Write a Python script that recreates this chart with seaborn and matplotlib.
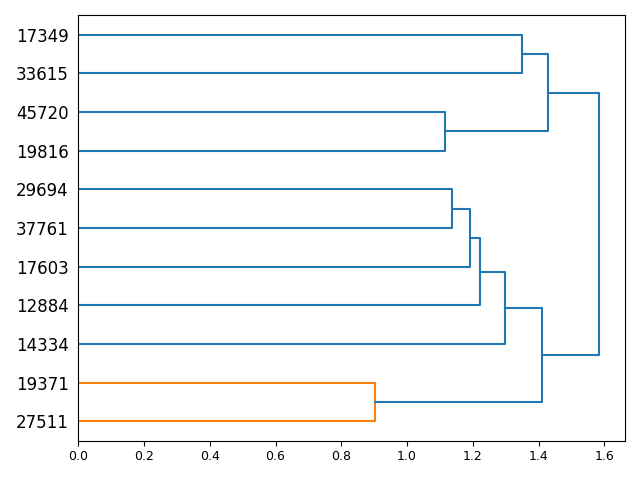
import matplotlib
matplotlib.use("Agg")
import matplotlib.pyplot as plt
import seaborn as sns
import pandas as pd

# leaf labels, bottom to top
leaf_labels = ['27511', '19371', '14334', '12884', '17603', '37761',
               '29694', '19816', '45720', '33615', '17349']

# merges: node ids 0..10 are leaves, 11.. are merged clusters (in list order)
merge_left = [0, 5, 7, 4, 3, 2, 9, 11, 13, 18]
merge_right = [1, 6, 8, 12, 14, 15, 10, 16, 17, 19]
merge_height = [0.903, 1.137, 1.115, 1.192, 1.222, 1.298, 1.350, 1.411, 1.429, 1.584]


def main():
    n = len(leaf_labels)
    pos_y = {i: 5 + 10 * i for i in range(n)}
    pos_x = {i: 0.0 for i in range(n)}
    threshold = 0.7 * max(merge_height)

    # colour of each link: subtrees below threshold get their own colour
    palette = sns.color_palette('tab10')
    node_color = {}
    next_col = [1]

    def paint(node, col):
        node_color[node] = col
        if node >= n:
            k = node - n
            paint(merge_left[k], col)
            paint(merge_right[k], col)

    fig, ax = plt.subplots(figsize=(6.4, 4.8))

    links = []
    for k in range(len(merge_height)):
        node = n + k
        a, b, h = merge_left[k], merge_right[k], merge_height[k]
        pos_y[node] = (pos_y[a] + pos_y[b]) / 2
        pos_x[node] = h
        links.append(node)

    # assign colours top-down
    for node in reversed(links):
        k = node - n
        h = merge_height[k]
        if node in node_color:
            continue
        if h < threshold:
            paint(node, palette[next_col[0] % 10])
            next_col[0] += 1
        else:
            node_color[node] = palette[0]

    for node in links:
        k = node - n
        a, b, h = merge_left[k], merge_right[k], merge_height[k]
        df = pd.DataFrame({
            'x': [pos_x[a], h, h, pos_x[b]],
            'y': [pos_y[a], pos_y[a], pos_y[b], pos_y[b]],
        })
        sns.lineplot(data=df, x='x', y='y', sort=False, estimator=None,
                     color=node_color[node], linewidth=1.5, ax=ax)

    ax.set_xlim(0, max(merge_height) * 1.05)
    ax.set_ylim(0, n * 10)
    ax.set_yticks([pos_y[i] for i in range(n)])
    ax.set_yticklabels(leaf_labels, fontsize=12)
    # hide the y tick marks but keep their spacing
    for line in ax.get_yticklines():
        line.set_visible(False)
    ax.tick_params(axis='x', labelsize=9)
    ax.set_xlabel('')
    ax.set_ylabel('')

    fig.subplots_adjust(left=0.1223, right=0.9766, bottom=0.0819, top=0.968)
    fig.savefig('out.png', dpi=100)


if __name__ == "__main__":
    main()
